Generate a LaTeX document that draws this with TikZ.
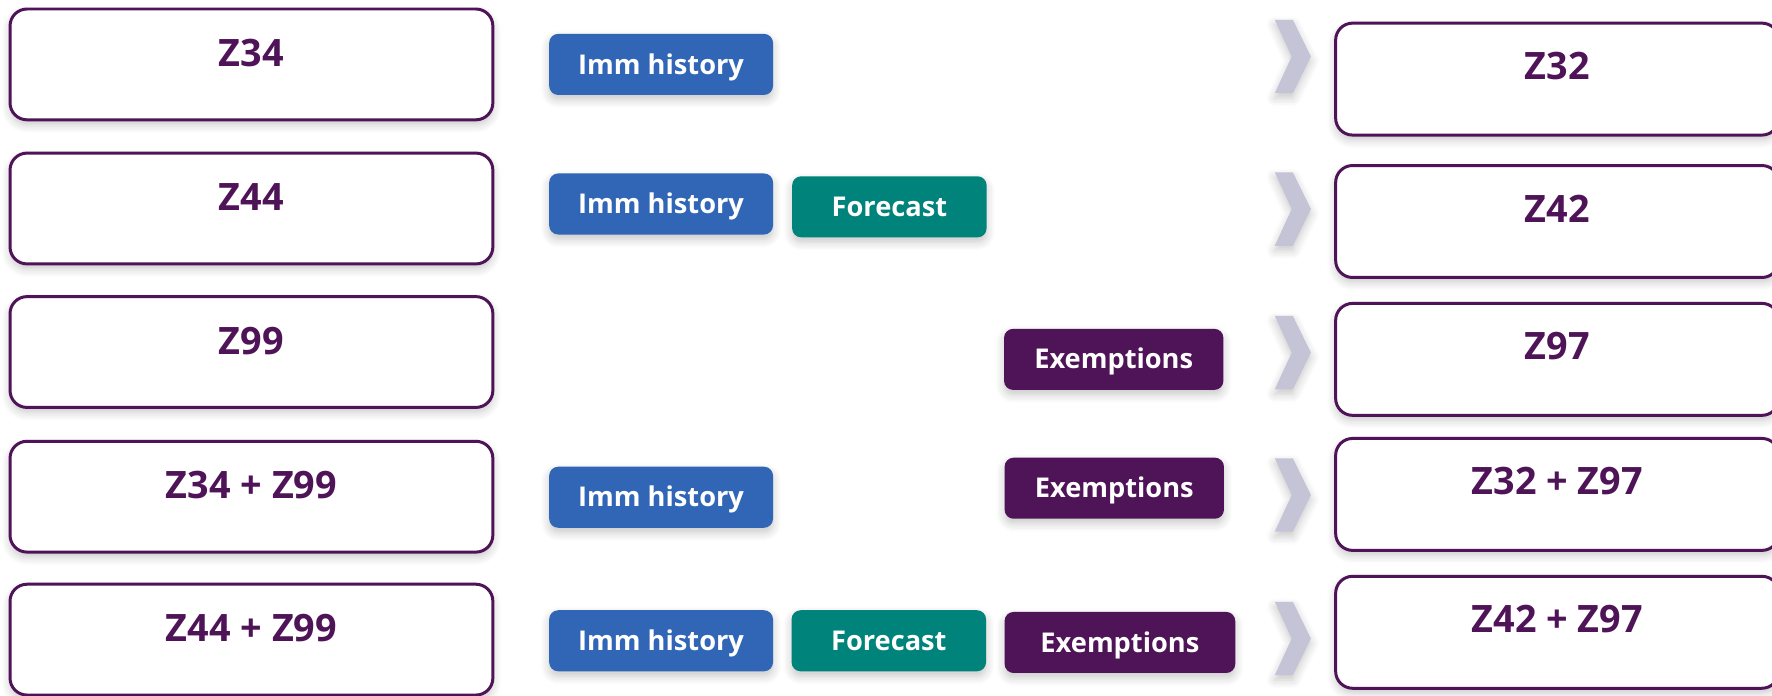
\documentclass[tikz,border=0pt]{standalone}
\usepackage{fontspec}
\setmainfont{Open Sans}
\usetikzlibrary{shadows.blur}
\definecolor{plum}{HTML}{4F1458}
\definecolor{immblue}{HTML}{3166B6}
\definecolor{fcteal}{HTML}{00837A}
\definecolor{chev}{HTML}{C4C4D6}
\begin{document}
\begin{tikzpicture}[x=0.01cm,y=-0.01cm,
  sh/.style={blur shadow={shadow xshift=0pt,shadow yshift=-1.2pt,shadow blur steps=6,shadow opacity=22}},
  codebox/.style={draw=plum,line width=0.75pt,rounded corners=0.15cm,fill=white,inner sep=0pt,sh,
    text=plum,font=\fontsize{9.5}{11}\selectfont\bfseries},
  oldbox/.style={codebox,minimum width=4.27cm,text height=0.51cm,text depth=0.47cm},
  newbox/.style={codebox,minimum width=3.92cm,text height=0.50cm,text depth=0.49cm},
  tag/.style={rounded corners=0.08cm,minimum height=0.54cm,inner sep=0pt,sh,
    text height=0.17cm,text depth=0pt,text=white,font=\fontsize{6.85}{8}\selectfont\bfseries},
  imm/.style={tag,fill=immblue,minimum width=1.98cm},
  fc/.style={tag,fill=fcteal,minimum width=1.72cm},
  ex/.style={tag,fill=plum,minimum width=1.94cm}]
\useasboundingbox (0,0) rectangle (1568,615);
\pgfmathsetmacro{\h}{32.5}
% old codes
\node[oldbox] (z34) at (222.5,57) {Z34};
\node[oldbox] (z44) at (222.5,184.5) {Z44};
\node[oldbox] (z99) at (222.5,311.5) {Z99};
\node[oldbox] (z34z99) at (222.5,439.5) {Z34 + Z99};
\node[oldbox] (z44z99) at (222.5,566) {Z44 + Z99};
% what feeds each row
\node[imm] (imm1) at (585,57) {Imm history};
\node[imm] (imm2) at (585,180.5) {Imm history};
\node[fc] (fc2) at (787,183) {Forecast};
\node[ex] (ex3) at (985.5,318) {Exemptions};
\node[imm] (imm4) at (585,440) {Imm history};
\node[ex] (ex4) at (986,432) {Exemptions};
\node[imm] (imm5) at (585,567) {Imm history};
\node[fc] (fc5) at (786.5,567) {Forecast};
\node[ex,minimum width=2.04cm] (ex5) at (991,568.5) {Exemptions};
% chevrons
\foreach \c in {50,185,312,438,565}
  \fill[chev,sh] (1128,\c-\h)--(1144,\c-\h)--(1160,\c)--(1144,\c+\h)--(1128,\c+\h)--(1143,\c)--cycle;
% new codes
\node[newbox] (z32) at (1378,70) {Z32};
\node[newbox] (z42) at (1378,196) {Z42};
\node[newbox] (z97) at (1378,318) {Z97};
\node[newbox] (z32z97) at (1378,437.5) {Z32 + Z97};
\node[newbox] (z42z97) at (1378,559.5) {Z42 + Z97};
\end{tikzpicture}
\end{document}
